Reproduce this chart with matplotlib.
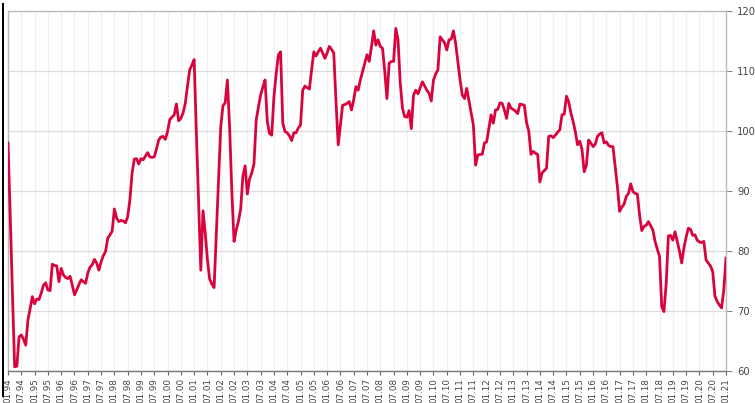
import matplotlib
matplotlib.use("Agg")
import matplotlib.pyplot as plt
import matplotlib.patches as mpatches
import pandas as pd

start_month = "1994-01"
values = [
    98, 86, 73, 60.7, 60.8, 65.7, 66, 65.3, 64.3, 68.5, 70.5, 72.4,
    71.2, 72, 71.9, 73, 74.3, 74.7, 73.5, 73.4, 77.8, 77.6, 77.5, 74.9,
    77.1, 76, 75.6, 75.4, 75.8, 74.3, 72.7, 73.5, 74.4, 75.2, 74.9, 74.6,
    76.3, 77.3, 77.7, 78.6, 78, 76.8, 78.2, 79.2, 79.9, 82.1, 82.7, 83.3,
    87, 85.5, 84.9, 85.1, 85, 84.7, 85.7, 88.5, 93, 95.3, 95.4, 94.5,
    95.4, 95.2, 95.8, 96.4, 95.7, 95.6, 95.7, 97, 98.5, 99, 99.1, 98.6,
    99.9, 101.9, 102.3, 102.7, 104.5, 101.7, 102.1, 103, 104.6, 107.5, 110.2, 111,
    111.9, 99.7, 88.5, 76.8, 86.7, 83, 78.5, 75.3, 74.5, 73.9, 83, 91.8,
    100.7, 104.2, 104.7, 108.5, 100.7, 90, 81.6, 83.5, 85, 87, 92.5, 94.2,
    89.5, 92, 93, 94.5, 101.8, 104, 106, 107.3, 108.5, 101.6, 99.6, 99.3,
    105.7, 109.5, 112.7, 113.2, 101.3, 99.9, 99.7, 99.2, 98.4, 99.7, 99.7, 100.5,
    101, 106.8, 107.5, 107.2, 107, 110.2, 113.2, 112.5, 113.2, 113.8, 113, 112.1,
    113, 114.1, 113.6, 113, 105, 97.7, 101, 104.3, 104.4, 104.6, 104.9, 103.5,
    105.2, 107.4, 106.8, 108.5, 109.9, 111.3, 112.7, 111.6, 114, 116.7, 114.3, 115.2,
    114.1, 113.8, 110, 105.4, 111.3, 111.6, 111.6, 117.1, 115.2, 108, 103.8, 102.4,
    102.3, 103.4, 100.4, 106, 106.8, 106.2, 107.2, 108.2, 107.5, 106.8, 106.3, 105,
    108.5, 109.5, 110.2, 115.7, 115.2, 114.7, 113.5, 115.2, 115.3, 116.7, 114.6, 111.5,
    108.5, 106, 105.4, 107.1, 105, 103, 101, 94.3, 96, 96.1, 96.1, 98,
    98.2, 100.5, 102.7, 101.3, 103.5, 103.6, 104.7, 104.6, 103.5, 102.1, 104.6, 103.8,
    103.6, 103.3, 102.9, 104.5, 104.4, 104.3, 101.4, 100, 96.1, 96.6, 96.3, 96.1,
    91.5, 93, 93.4, 93.8, 99.1, 99.2, 98.9, 99.3, 99.8, 100.2, 102.7, 102.8,
    105.8, 104.9, 103, 101.6, 99.9, 97.7, 98.3, 97, 93.2, 94.3, 98.5, 98,
    97.4, 97.8, 99.1, 99.5, 99.7, 98, 98.2, 97.6, 97.4, 97.4, 94.1, 90.7,
    86.6, 87.3, 87.8, 89.1, 89.6, 91.2, 89.9, 89.6, 89.5, 86, 83.4, 84.1,
    84.3, 84.9, 84.2, 83.5, 81.6, 80.3, 79.1, 70.7, 69.9, 74.5, 82.5, 82.6,
    81.8, 83.2, 81.6, 80, 78, 80.5, 82.3, 83.8, 83.6, 82.6, 82.7, 81.8,
    81.5, 81.4, 81.6, 78.5, 78, 77.5, 76.6, 72.5, 71.6, 71, 70.5, 73.5,
    78.8,
]
y_ticks = [60, 70, 80, 90, 100, 110, 120]

dates = pd.period_range(start=start_month, periods=len(values), freq="M")
xpos = list(range(len(values)))
tick_pos = [i for i, d in enumerate(dates) if d.month in (1, 7)]
tick_labels = [dates[i].strftime("%m.%y") for i in tick_pos]

fig = plt.figure(figsize=(7.55, 4.03), dpi=100)
ax = fig.add_axes([8 / 755, 32 / 403, 718 / 755, 360 / 403])

ax.plot(xpos, values, color="#d9043d", lw=2.0, solid_joinstyle="round", zorder=3)

ax.set_xlim(0, len(values) - 1)
ax.set_ylim(60, 120)
ax.set_yticks(y_ticks)
ax.yaxis.tick_right()
ax.set_xticks(tick_pos)
ax.set_xticklabels(tick_labels, rotation=90, fontsize=6.3, color="#444444")
ax.tick_params(axis="y", labelsize=7.2, labelcolor="#444444", color="#888888",
               length=4, width=0.8, pad=4)
ax.tick_params(axis="x", color="#666666", length=3, width=0.8, pad=2)

ax.grid(axis="y", color="#dddddd", lw=0.9, zorder=0)
ax.grid(axis="x", color="#f0f0f0", lw=0.9, zorder=0)
ax.set_axisbelow(True)

for side in ("top", "right", "left"):
    ax.spines[side].set_color("#bbbbbb")
    ax.spines[side].set_linewidth(1.0)
ax.spines["bottom"].set_color("#777777")
ax.spines["bottom"].set_linewidth(1.0)

fig.add_artist(mpatches.Rectangle((2 / 755, 6 / 403), 1.5 / 755, 394 / 403,
                                  facecolor="black", edgecolor="none",
                                  transform=fig.transFigure, zorder=10))

fig.savefig("out.png", dpi=100)
